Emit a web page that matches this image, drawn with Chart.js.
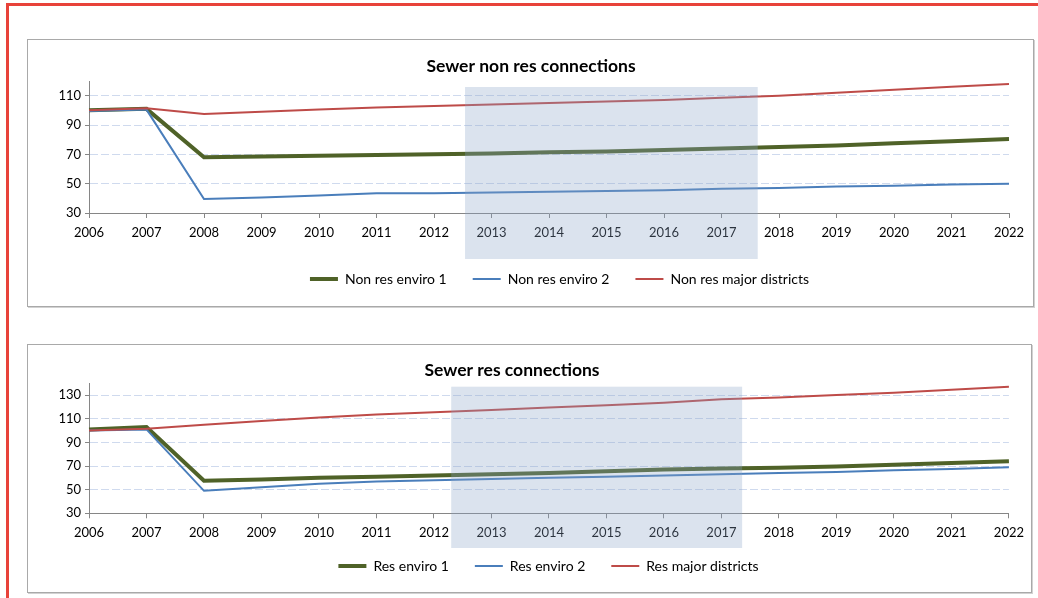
<!DOCTYPE html>
<html>
<head>
    <meta charset="utf-8"/>
    <title>Sewer connections</title>
    <script src="https://cdn.jsdelivr.net/npm/chart.js"></script>
    <style>
        body {
            margin: 0;
            background-color: #ffffff;
            width: 1038px;
            height: 598px;
            overflow: hidden;
            position: relative;
            font-family: Lato, sans-serif;
        }

        .red-top {
            position: absolute;
            left: 6px;
            top: 3px;
            width: 1032px;
            height: 3px;
            background-color: #e8423a;
        }

        .red-left {
            position: absolute;
            left: 6px;
            top: 3px;
            width: 3px;
            height: 595px;
            background-color: #e8423a;
        }

        .box {
            position: absolute;
            border: 1px solid #a9a9a9;
            box-shadow: 1px 1px 0 #d2d2d2;
            background-color: #ffffff;
        }

        canvas {
            display: block;
        }
    </style>
</head>
<body>
    <div class="red-top"></div>
    <div class="red-left"></div>

    <!-- Chart boxes -->
    <div class="box" style="left:27px; top:39px; width:1005px; height:266px;">
        <canvas id="nonResChart" width="1005" height="266"></canvas>
    </div>
    <div class="box" style="left:27px; top:344px; width:1003px; height:247px;">
        <canvas id="resChart" width="1003" height="247"></canvas>
    </div>

    <script>
        // Data
        const years = ['2006', '2007', '2008', '2009', '2010', '2011', '2012', '2013', '2014',
                       '2015', '2016', '2017', '2018', '2019', '2020', '2021', '2022'];

        const nonResEnviro1 = [100, 101, 68, 68.5, 69, 69.5, 70, 70.5, 71.5, 72, 73, 74, 75, 76, 77.5, 79, 80.5];
        const nonResEnviro2 = [99.5, 100.5, 39.5, 40.5, 42, 43.5, 43.5, 44, 44.5, 45, 45.5, 46.5, 47, 48, 48.5, 49.5, 50];
        const nonResMajor = [100, 101.5, 97.5, 99, 100.5, 102, 103, 104, 105, 106, 107, 108.5, 110, 112, 114, 116, 118];

        const resEnviro1 = [101, 103, 57.5, 58.5, 60, 61, 62, 63, 64, 65.5, 67, 68, 68.5, 69.5, 71, 72.5, 74];
        const resEnviro2 = [100, 101, 49, 52, 55, 57, 58, 59, 60, 61, 62, 63, 64, 65, 66.5, 67.5, 69];
        const resMajor = [100, 101.5, 105, 108, 111, 113.5, 115.5, 117.5, 119.5, 121.5, 123.5, 126.5, 128, 130, 132, 134.5, 137];

        const nonResYTicks = [30, 50, 70, 90, 110];
        const resYTicks = [30, 50, 70, 90, 110, 130];

        const GREEN = '#4f6228';
        const BLUE = '#4a7ebb';
        const RED = '#be4b48';
        const AXIS = '#868686';
        const FONT = 'Lato, sans-serif';

        // Shaded box drawn over the chart, and small shifts for title / legend
        const overlayPlugin = {
            id: 'overlay',
            afterLayout(chart, args, opts) {
                if (opts.titleShift && chart.titleBlock) {
                    chart.titleBlock.left += opts.titleShift;
                    chart.titleBlock.right += opts.titleShift;
                }
                if (chart.legend) {
                    chart.legend.left += opts.legendShift || 0;
                    chart.legend.right += opts.legendShift || 0;
                    chart.legend.top += opts.legendShiftY || 0;
                    chart.legend.bottom += opts.legendShiftY || 0;
                }
            },
            afterDraw(chart, args, opts) {
                if (!opts.band) return;
                const x = chart.scales.x;
                const area = chart.chartArea;
                const left = x.getPixelForValue(opts.band.from);
                const right = x.getPixelForValue(opts.band.to);
                const top = area.top + opts.band.top;
                const bottom = area.bottom + opts.band.bottom;
                const ctx = chart.ctx;
                ctx.save();
                ctx.fillStyle = 'rgba(140, 166, 201, 0.31)';
                ctx.fillRect(left, top, right - left, bottom - top);
                ctx.restore();
            }
        };

        function lineLegendLabels(chart) {
            return chart.data.datasets.map((ds, i) => ({
                text: ds.label,
                fillStyle: ds.borderColor,
                strokeStyle: ds.borderColor,
                lineWidth: ds.borderWidth,
                lineCap: 'butt',
                pointStyle: 'line',
                hidden: !chart.isDatasetVisible(i),
                datasetIndex: i,
                fontColor: '#000000'
            }));
        }

        function makeChart(id, title, labels, series, yTicks, yMax, cfg) {
            const ctx = document.getElementById(id).getContext('2d');
            const yMin = yTicks[0];
            return new Chart(ctx, {
                type: 'line',
                data: {
                    labels: years,
                    datasets: [
                        { label: labels[0], data: series[0], borderColor: GREEN, borderWidth: 4, order: 2 },
                        { label: labels[1], data: series[1], borderColor: BLUE, borderWidth: 2, order: 1 },
                        { label: labels[2], data: series[2], borderColor: RED, borderWidth: 2, order: 0 }
                    ]
                },
                options: {
                    responsive: false,
                    animation: false,
                    elements: {
                        point: { radius: 0 },
                        line: { tension: 0, fill: false }
                    },
                    layout: {
                        padding: { left: 0, right: cfg.padRight, top: 0, bottom: cfg.padBottom }
                    },
                    scales: {
                        x: {
                            type: 'category',
                            offset: false,
                            grid: {
                                display: true,
                                drawOnChartArea: false,
                                drawTicks: true,
                                tickLength: 5,
                                color: AXIS
                            },
                            border: { display: true, color: AXIS, width: 1 },
                            ticks: {
                                color: '#000000',
                                font: { family: FONT, size: 13 },
                                padding: 7,
                                maxRotation: 0,
                                autoSkip: false
                            },
                            afterFit: (scale) => { scale.height = cfg.xHeight; }
                        },
                        y: {
                            min: yMin,
                            max: yMax,
                            afterBuildTicks: (scale) => {
                                scale.ticks = yTicks.map(v => ({ value: v }));
                            },
                            grid: {
                                color: (c) => (c.tick && c.tick.value === yMin) ? 'rgba(0,0,0,0)' : '#cfdaee',
                                lineWidth: 1,
                                drawTicks: true,
                                tickLength: 4,
                                tickColor: AXIS
                            },
                            border: { display: true, color: AXIS, width: 1, dash: [8, 3] },
                            ticks: {
                                color: '#000000',
                                font: { family: FONT, size: 13 },
                                padding: 4
                            },
                            afterFit: (scale) => { scale.width = 61; }
                        }
                    },
                    plugins: {
                        title: {
                            display: true,
                            text: title,
                            color: '#000000',
                            font: { family: FONT, size: 17.5, weight: 'bold' },
                            padding: { top: cfg.titleTop, bottom: cfg.titleBottom }
                        },
                        legend: {
                            position: 'bottom',
                            labels: {
                                usePointStyle: true,
                                pointStyleWidth: 28,
                                padding: 26,
                                color: '#000000',
                                font: { family: FONT, size: 14 },
                                generateLabels: lineLegendLabels
                            }
                        },
                        tooltip: { enabled: false },
                        overlay: {
                            titleShift: cfg.titleShift,
                            legendShift: cfg.legendShift,
                            legendShiftY: cfg.legendShiftY,
                            band: cfg.band
                        }
                    }
                },
                plugins: [overlayPlugin]
            });
        }

        function drawCharts() {
            makeChart('nonResChart', 'Sewer non res connections',
                ['Non res enviro 1', 'Non res enviro 2', 'Non res major districts'],
                [nonResEnviro1, nonResEnviro2, nonResMajor],
                nonResYTicks, 120,
                {
                    padRight: 24, padBottom: 10, xHeight: 33,
                    titleTop: 15.5, titleBottom: 4.5,
                    titleShift: 12.5, legendShift: 41, legendShiftY: 0,
                    band: { from: 6.54, to: 11.63, top: 6, bottom: 46 }
                });

            makeChart('resChart', 'Sewer res connections',
                ['Res enviro 1', 'Res enviro 2', 'Res major districts'],
                [resEnviro1, resEnviro2, resMajor],
                resYTicks, 140,
                {
                    padRight: 22, padBottom: 0, xHeight: 28.7,
                    titleTop: 14.5, titleBottom: 2.8,
                    titleShift: -6.5, legendShift: 30, legendShiftY: -9,
                    band: { from: 6.30, to: 11.36, top: 3.4, bottom: 34.7 }
                });
        }

        window.onload = () => {
            Promise.all([
                document.fonts.load('13px Lato'),
                document.fonts.load('14px Lato'),
                document.fonts.load('bold 17.5px Lato')
            ]).then(drawCharts, drawCharts);
        };
    </script>
</body>
</html>
